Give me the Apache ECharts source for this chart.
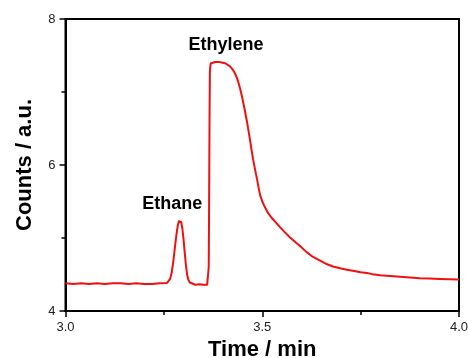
<!DOCTYPE html>
<html>
<head>
<meta charset="utf-8">
<script src="https://cdn.jsdelivr.net/npm/echarts@6/dist/echarts.min.js"></script>
<style>
  html, body { margin: 0; padding: 0; background: #fff; }
  #chart { width: 468px; height: 358px; }
</style>
</head>
<body>
<div id="chart"></div>
<script>
  // time (min) and detector counts (a.u.)
  var times = [
    3.00, 3.02, 3.04, 3.06, 3.08, 3.10, 3.12, 3.14, 3.16, 3.18, 3.20, 3.22, 3.24, 3.258,
    3.262, 3.266, 3.270, 3.274, 3.278, 3.282, 3.285, 3.288, 3.291, 3.294, 3.297, 3.300,
    3.303, 3.306, 3.309, 3.312, 3.316, 3.32, 3.33, 3.34, 3.35, 3.36, 3.363,
    3.364, 3.365, 3.366, 3.367, 3.369, 3.372, 3.38, 3.39, 3.40, 3.407, 3.412, 3.418,
    3.423, 3.428, 3.432, 3.436, 3.440, 3.444, 3.448, 3.452, 3.456, 3.461, 3.465, 3.469,
    3.473, 3.477, 3.482, 3.487, 3.491, 3.495, 3.500, 3.507, 3.515, 3.525, 3.535, 3.545,
    3.557, 3.57, 3.583, 3.596, 3.612, 3.629, 3.647, 3.665, 3.68, 3.698, 3.715, 3.73,
    3.75, 3.766, 3.78, 3.80, 3.825, 3.85, 3.875, 3.90, 3.925, 3.95, 3.975, 4.00
  ];
  var counts = [
    4.38, 4.37, 4.38, 4.37, 4.38, 4.37, 4.38, 4.38, 4.37, 4.38, 4.37, 4.37, 4.38, 4.385,
    4.40, 4.44, 4.53, 4.68, 4.87, 5.05, 5.16, 5.23, 5.25, 5.22, 5.13, 4.98,
    4.80, 4.63, 4.50, 4.43, 4.39, 4.37, 4.36, 4.365, 4.36, 4.36, 4.37,
    4.60, 5.50, 6.60, 7.30, 7.39, 7.41, 7.41, 7.41, 7.40, 7.39, 7.37, 7.35,
    7.32, 7.28, 7.24, 7.19, 7.12, 7.04, 6.95, 6.85, 6.74, 6.60, 6.47, 6.34,
    6.20, 6.07, 5.93, 5.80, 5.68, 5.58, 5.50, 5.42, 5.34, 5.27, 5.21, 5.15,
    5.08, 5.01, 4.95, 4.89, 4.81, 4.74, 4.69, 4.64, 4.61, 4.585, 4.565, 4.55,
    4.53, 4.52, 4.505, 4.49, 4.48, 4.47, 4.46, 4.45, 4.445, 4.44, 4.435, 4.43
  ];
  // peak labels, placed in data units
  var peakNames = ['Ethane', 'Ethylene'];
  var peakLabelAt = [[3.271, 5.47], [3.408, 7.64]];

  var xTicks = { min: 3.0, max: 4.0, step: 0.5 };
  var yTicks = { min: 4, max: 8, step: 2 };

  var font = "'Liberation Sans', Arial, sans-serif";

  var data = times.map(function (t, i) { return [t, counts[i]]; });
  var marks = peakNames.map(function (n, i) { return { name: n, coord: peakLabelAt[i] }; });

  var myChart = echarts.init(document.getElementById('chart'), null, { renderer: 'canvas' });

  var option = {
    animation: false,
    grid: {
      left: 65.5, right: 9, top: 19, bottom: 47,
      outerBoundsMode: 'none',
      containLabel: false,
      show: true, borderColor: '#000', borderWidth: 2
    },
    xAxis: {
      type: 'value',
      min: xTicks.min, max: xTicks.max, interval: xTicks.step,
      name: 'Time / min',
      nameLocation: 'middle',
      nameGap: 27,
      nameTextStyle: { fontFamily: font, fontSize: 22, fontWeight: 'bold', color: '#000' },
      axisLine: { lineStyle: { color: '#000', width: 2 } },
      axisTick: { show: true, length: 6, lineStyle: { color: '#000', width: 1.5 } },
      minorTick: { show: true, splitNumber: 2, length: 4, lineStyle: { color: '#000', width: 1.5 } },
      splitLine: { show: false },
      axisLabel: {
        fontFamily: font, fontSize: 13, color: '#222', margin: 10,
        formatter: function (v) { return v.toFixed(1); }
      }
    },
    yAxis: {
      type: 'value',
      min: yTicks.min, max: yTicks.max, interval: yTicks.step,
      name: 'Counts / a.u.',
      nameLocation: 'middle',
      nameGap: 30,
      nameTextStyle: { fontFamily: font, fontSize: 22, fontWeight: 'bold', color: '#000' },
      axisLine: { show: true, lineStyle: { color: '#000', width: 2 } },
      axisTick: { show: true, length: 6, lineStyle: { color: '#000', width: 1.5 } },
      minorTick: { show: true, splitNumber: 2, length: 4, lineStyle: { color: '#000', width: 1.5 } },
      splitLine: { show: false },
      axisLabel: { fontFamily: font, fontSize: 13, color: '#222', margin: 10 }
    },
    series: [{
      type: 'line',
      data: data,
      showSymbol: false,
      smooth: false,
      lineStyle: { color: '#f01010', width: 2, join: 'round' },
      markPoint: {
        symbol: 'circle',
        symbolSize: 0,
        label: {
          show: true, position: 'inside', formatter: '{b}',
          fontFamily: font, fontSize: 18, fontWeight: 'bold', color: '#000'
        },
        data: marks
      }
    }]
  };

  myChart.setOption(option);
  window.addEventListener('resize', myChart.resize);
</script>
</body>
</html>
